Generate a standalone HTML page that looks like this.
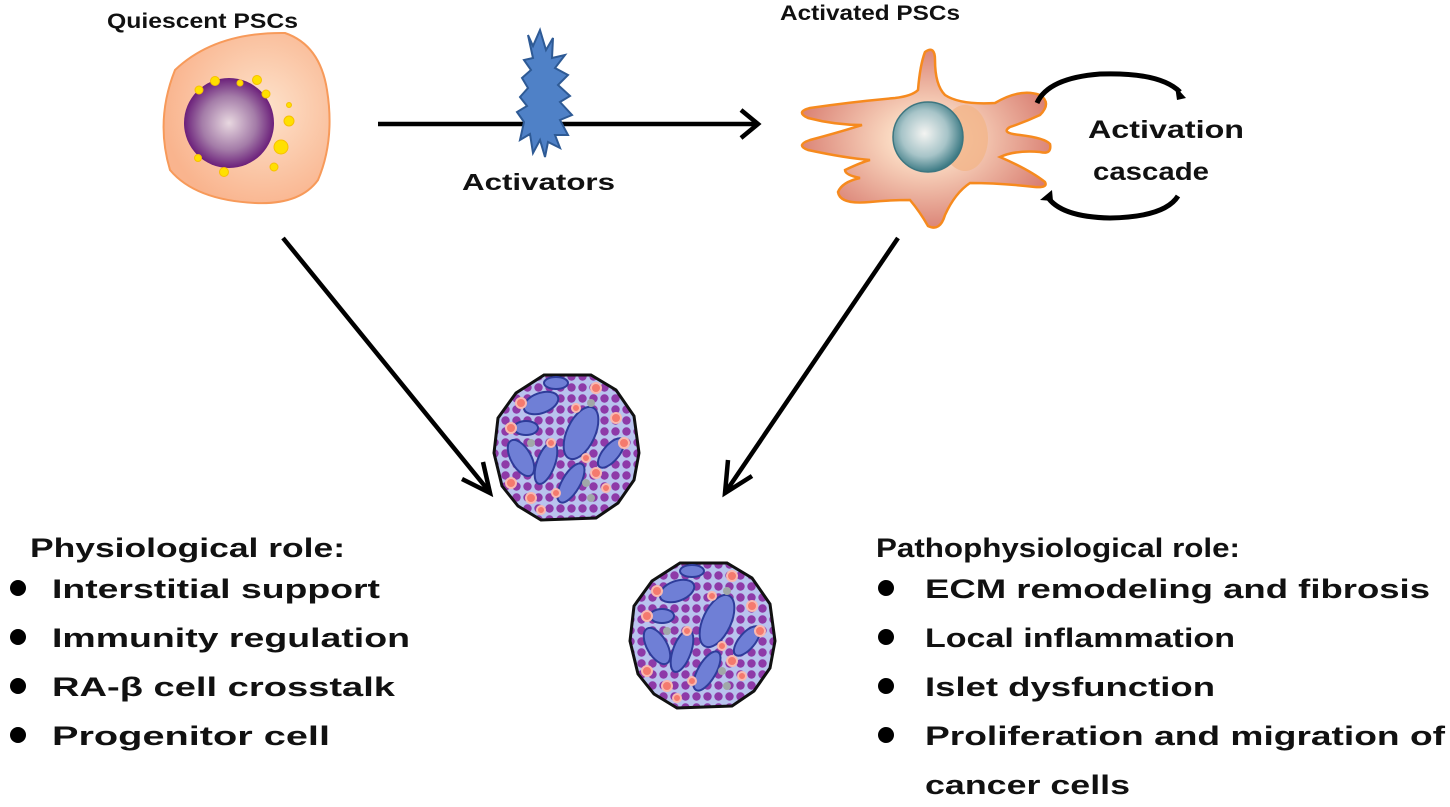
<!DOCTYPE html>
<html><head><meta charset="utf-8"><style>
html,body{margin:0;padding:0;background:#fff;}
svg{display:block;}
text{font-family:"Liberation Sans",sans-serif;font-weight:bold;fill:#111;}
</style></head><body>
<svg width="1450" height="807" viewBox="0 0 1450 807" xmlns="http://www.w3.org/2000/svg">
<defs>
<radialGradient id="cyt" cx="60%" cy="45%" r="60%"><stop offset="0" stop-color="#fde3cc"/><stop offset="1" stop-color="#f9b48e"/></radialGradient>
<radialGradient id="nuc" cx="50%" cy="50%" r="50%"><stop offset="0" stop-color="#e8d8e0"/><stop offset="0.6" stop-color="#a47ca8"/><stop offset="1" stop-color="#6b1f7a"/></radialGradient>
<radialGradient id="anuc" cx="45%" cy="45%" r="55%"><stop offset="0" stop-color="#f4f4f2"/><stop offset="0.6" stop-color="#a7c4c8"/><stop offset="1" stop-color="#3f7c86"/></radialGradient>
<radialGradient id="acyt" cx="50%" cy="50%" r="55%"><stop offset="0.2" stop-color="#fde1c8"/><stop offset="1" stop-color="#d77a6e"/></radialGradient>
<pattern id="dots" width="11" height="11" patternUnits="userSpaceOnUse">
<rect width="11" height="11" fill="#b9c3ee"/>
<circle cx="5.5" cy="5.5" r="4.2" fill="#8e3aa8"/>
</pattern>
<g id="islet">
<path d="M-22,-73 L25,-73 L50,-58 L68,-32 L73,5 L68,32 L52,55 L30,70 L-25,72 L-48,58 L-64,38 L-72,5 L-68,-30 L-50,-55 Z" fill="url(#dots)" stroke="#111" stroke-width="3"/>
<g fill="#6f7fd6" stroke="#2e3c9a" stroke-width="2">
<ellipse cx="-25" cy="-45" rx="18" ry="10" transform="rotate(-20 -25 -45)"/>
<ellipse cx="15" cy="-15" rx="14" ry="28" transform="rotate(25 15 -15)"/>
<ellipse cx="-45" cy="10" rx="10" ry="20" transform="rotate(-30 -45 10)"/>
<ellipse cx="-20" cy="15" rx="9" ry="22" transform="rotate(20 -20 15)"/>
<ellipse cx="5" cy="35" rx="9" ry="22" transform="rotate(30 5 35)"/>
<ellipse cx="45" cy="5" rx="8" ry="18" transform="rotate(40 45 5)"/>
<ellipse cx="-10" cy="-65" rx="12" ry="6"/>
<ellipse cx="-40" cy="-20" rx="12" ry="7"/>
</g>
<g fill="#f47a6e" stroke="#f9b8b0" stroke-width="2">
<circle cx="-45" cy="-45" r="5"/><circle cx="-55" cy="-20" r="5"/><circle cx="-55" cy="35" r="5"/><circle cx="-35" cy="50" r="5"/><circle cx="-15" cy="-5" r="4"/><circle cx="30" cy="-60" r="5"/><circle cx="50" cy="-30" r="5"/><circle cx="58" cy="-5" r="5"/><circle cx="30" cy="25" r="5"/><circle cx="20" cy="10" r="4"/><circle cx="-10" cy="45" r="4"/><circle cx="10" cy="-40" r="4"/><circle cx="40" cy="40" r="4"/><circle cx="-25" cy="62" r="4"/>
</g>
<g fill="#a0a8a8"><circle cx="25" cy="-45" r="4"/><circle cx="-35" cy="-5" r="4"/><circle cx="20" cy="35" r="4"/><circle cx="25" cy="50" r="4"/></g>
</g>
</defs>

<!-- Quiescent cell -->
<path d="M175,70 Q215,32 285,33 Q320,45 327,90 Q335,140 318,180 Q300,205 255,203 Q195,200 170,170 Q155,120 175,70 Z" fill="url(#cyt)" stroke="#f79a5a" stroke-width="2"/>
<circle cx="229" cy="123" r="45" fill="url(#nuc)"/>
<g fill="#ffe000" stroke="#f7c000" stroke-width="1">
<circle cx="215" cy="81" r="4.5"/><circle cx="199" cy="90" r="4"/><circle cx="257" cy="80" r="4.5"/><circle cx="266" cy="94" r="4"/><circle cx="289" cy="105" r="2.5"/><circle cx="289" cy="121" r="5"/><circle cx="281" cy="147" r="7"/><circle cx="274" cy="167" r="4"/><circle cx="224" cy="172" r="4.5"/><circle cx="198" cy="158" r="3.5"/><circle cx="240" cy="83" r="3"/>
</g>
<text x="107" y="28" font-size="21" textLength="191" lengthAdjust="spacingAndGlyphs">Quiescent PSCs</text>

<!-- Horizontal arrow & activators -->
<line x1="378" y1="124" x2="756" y2="124" stroke="#000" stroke-width="4.5"/>
<path d="M741,110 L758,124 L741,138" fill="none" stroke="#000" stroke-width="4.5"/>
<path d="M528,35 L533,46 L540,30 L546,50 L553,38 L552,58 L565,55 L555,68 L568,75 L558,85 L570,96 L560,102 L572,115 L560,120 L568,135 L555,135 L560,148 L548,142 L545,157 L540,140 L533,153 L530,134 L520,140 L524,122 L517,112 L527,106 L520,97 L528,88 L522,78 L531,70 L524,60 L533,58 Z" fill="#4f81c7" stroke="#2e5a95" stroke-width="2"/>
<text x="462" y="190" font-size="23" textLength="153" lengthAdjust="spacingAndGlyphs">Activators</text>

<!-- Activated cell -->
<path d="M925,52 Q935,45 935,60 Q935,85 945,95 Q960,105 995,103 Q1020,88 1040,95 Q1052,103 1040,115 Q1025,122 1010,127 Q1000,133 1020,135 Q1045,138 1050,144 Q1052,155 1040,152 Q1015,150 1000,157 Q1030,170 1045,182 Q1048,188 1035,187 Q1000,183 970,183 Q955,193 945,215 Q940,232 928,226 Q920,212 910,200 Q890,200 870,202 Q840,205 838,192 Q842,182 860,178 Q845,175 845,170 Q862,162 870,160 Q845,158 808,150 Q795,145 810,140 Q840,132 862,125 Q835,125 808,118 Q795,112 810,108 Q850,102 895,98 Q912,96 918,90 Q920,65 925,52 Z" fill="url(#acyt)" stroke="#f68a1e" stroke-width="2.5"/>
<ellipse cx="965" cy="138" rx="23" ry="33" fill="#f3b58a" opacity="0.8"/>
<circle cx="928" cy="137" r="35" fill="url(#anuc)" stroke="#3d7680" stroke-width="1.5"/>
<text x="780" y="20" font-size="21" textLength="180" lengthAdjust="spacingAndGlyphs">Activated PSCs</text>

<!-- Cascade arcs -->
<path d="M1037,103 Q1048,78 1100,74 Q1160,72 1180,92" fill="none" stroke="#000" stroke-width="5"/>
<path d="M1175,86 L1186,98 L1177,100 Z" fill="#000"/>
<path d="M1047,196 Q1060,217 1110,218 Q1165,217 1178,196" fill="none" stroke="#000" stroke-width="5"/>
<path d="M1040,200 L1052,190 L1053,201 Z" fill="#000"/>
<text x="1088" y="138" font-size="25" textLength="156" lengthAdjust="spacingAndGlyphs">Activation</text>
<text x="1093" y="180" font-size="25" textLength="116" lengthAdjust="spacingAndGlyphs">cascade</text>

<!-- Diagonal arrows -->
<line x1="283" y1="238" x2="488" y2="490" stroke="#000" stroke-width="4.5"/>
<path d="M462,479 L490,493 L483,462" fill="none" stroke="#000" stroke-width="4.5"/>
<line x1="898" y1="238" x2="727" y2="490" stroke="#000" stroke-width="4.5"/>
<path d="M728,460 L725,493 L752,476" fill="none" stroke="#000" stroke-width="4.5"/>

<!-- Islets -->
<use href="#islet" transform="translate(566,448)"/>
<use href="#islet" transform="translate(702,636)"/>

<!-- Left list -->
<text x="30" y="557" font-size="27" textLength="315" lengthAdjust="spacingAndGlyphs">Physiological role:</text>
<g fill="#000"><circle cx="18" cy="588" r="8"/><circle cx="18" cy="637" r="8"/><circle cx="18" cy="686" r="8"/><circle cx="18" cy="735" r="8"/></g>
<text x="52" y="598" font-size="27" textLength="328" lengthAdjust="spacingAndGlyphs">Interstitial support</text>
<text x="52" y="647" font-size="27" textLength="358" lengthAdjust="spacingAndGlyphs">Immunity regulation</text>
<text x="52" y="696" font-size="27" textLength="343" lengthAdjust="spacingAndGlyphs">RA-β cell crosstalk</text>
<text x="52" y="745" font-size="27" textLength="278" lengthAdjust="spacingAndGlyphs">Progenitor cell</text>

<!-- Right list -->
<text x="876" y="557" font-size="27" textLength="364" lengthAdjust="spacingAndGlyphs">Pathophysiological  role:</text>
<g fill="#000"><circle cx="886" cy="588" r="8"/><circle cx="886" cy="637" r="8"/><circle cx="886" cy="686" r="8"/><circle cx="886" cy="735" r="8"/></g>
<text x="925" y="598" font-size="27" textLength="505" lengthAdjust="spacingAndGlyphs">ECM remodeling and fibrosis</text>
<text x="925" y="647" font-size="27" textLength="310" lengthAdjust="spacingAndGlyphs">Local inflammation</text>
<text x="925" y="696" font-size="27" textLength="290" lengthAdjust="spacingAndGlyphs">Islet dysfunction</text>
<text x="925" y="745" font-size="27" textLength="520" lengthAdjust="spacingAndGlyphs">Proliferation and migration of</text>
<text x="925" y="794" font-size="27" textLength="205" lengthAdjust="spacingAndGlyphs">cancer cells</text>
</svg>
</body></html>
